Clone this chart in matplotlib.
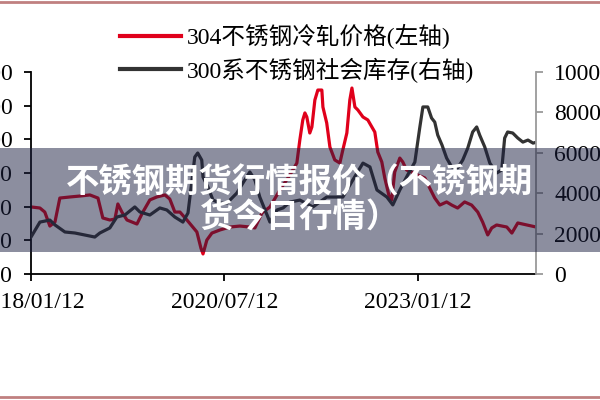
import numpy as np
import pandas as pd
import matplotlib
matplotlib.use('Agg')
import matplotlib.pyplot as plt
from matplotlib.lines import Line2D
from matplotlib.patches import Rectangle

plt.rcParams['font.family'] = ['Liberation Serif', 'Noto Sans CJK SC']

# 304不锈钢冷轧价格 (left axis)
price_dates = ['2018-01-12', '2018-02-23', '2018-03-18', '2018-04-11', '2018-05-05', '2018-05-28',
               '2018-07-15', '2018-08-31', '2018-10-17', '2018-11-24', '2018-12-17', '2019-01-19',
               '2019-02-12', '2019-02-26', '2019-03-17', '2019-04-10', '2019-05-27', '2019-06-24',
               '2019-07-27', '2019-08-29', '2019-10-06', '2019-10-29', '2019-11-22', '2019-12-16',
               '2020-01-18', '2020-03-05', '2020-03-24', '2020-04-03', '2020-04-21', '2020-05-15',
               '2020-06-22', '2020-08-08', '2020-09-24', '2020-11-10', '2020-12-04', '2021-01-06',
               '2021-02-13', '2021-04-01', '2021-05-18', '2021-06-20', '2021-07-04', '2021-07-18',
               '2021-07-28', '2021-08-06', '2021-08-20', '2021-08-30', '2021-09-13', '2021-09-27',
               '2021-10-16', '2021-10-21', '2021-11-08', '2021-11-23', '2021-12-16', '2022-01-09',
               '2022-01-23', '2022-02-11', '2022-02-25', '2022-03-07', '2022-03-21', '2022-04-04',
               '2022-04-28', '2022-05-21', '2022-06-09', '2022-06-23', '2022-07-07', '2022-07-26',
               '2022-08-09', '2022-08-28', '2022-09-11', '2022-09-25', '2022-10-19', '2022-11-02',
               '2022-11-20', '2022-12-14', '2023-01-12', '2023-02-14', '2023-03-09', '2023-04-02',
               '2023-04-26', '2023-05-28', '2023-06-21', '2023-07-19', '2023-08-21', '2023-09-23',
               '2023-10-22', '2023-11-14', '2023-12-08', '2023-12-27', '2024-01-19', '2024-03-07',
               '2024-03-31', '2024-04-28', '2024-06-10', '2024-07-23']
price_values = [14980, 14900, 14600, 13560, 13860, 15640,
                15720, 15790, 15870, 15640, 14160, 14010,
                14080, 15200, 14600, 14010, 13710, 14600,
                15500, 15720, 15870, 15570, 14600, 14600,
                14010, 13120, 11930, 11490, 12520, 13040,
                13270, 13490, 13560, 13490, 13420, 14530,
                14980, 16240, 17350, 18240, 19950, 21440,
                21960, 21660, 20470, 20920, 22920, 23660,
                23660, 22400, 21210, 19430, 18470, 18240,
                19210, 20470, 22920, 23810, 22400, 22180,
                21660, 21440, 20920, 20540, 19060, 18320,
                17130, 15870, 15500, 17570, 18610, 18320,
                17720, 17570, 17350, 17130, 16390, 15640,
                15120, 15350, 15120, 14900, 15350, 15120,
                14600, 13860, 12900, 13420, 13640, 13490,
                13040, 13790, 13640, 13490]

# 300系不锈钢社会库存 (right axis)
stock_dates = ['2018-01-12', '2018-02-23', '2018-04-11', '2018-05-05', '2018-06-21', '2018-08-07',
               '2018-09-23', '2018-11-09', '2018-12-03', '2019-01-19', '2019-02-21', '2019-03-31',
               '2019-05-17', '2019-06-10', '2019-07-27', '2019-09-12', '2019-10-15', '2019-11-22',
               '2019-12-30', '2020-01-23', '2020-02-11', '2020-02-24', '2020-03-09', '2020-03-28',
               '2020-04-03', '2020-04-26', '2020-05-20', '2020-06-22', '2020-07-25', '2020-09-10',
               '2020-10-08', '2020-11-10', '2020-12-04', '2020-12-27', '2021-02-13', '2021-03-18',
               '2021-04-16', '2021-05-18', '2021-07-04', '2021-09-04', '2021-11-08', '2022-01-23',
               '2022-03-11', '2022-04-28', '2022-05-31', '2022-07-03', '2022-08-19', '2022-09-16',
               '2022-10-19', '2022-11-25', '2022-12-29', '2023-01-21', '2023-02-05', '2023-02-28',
               '2023-03-18', '2023-04-02', '2023-04-16', '2023-05-06', '2023-05-28', '2023-06-21',
               '2023-07-19', '2023-08-12', '2023-09-05', '2023-09-28', '2023-10-17', '2023-10-31',
               '2023-11-24', '2023-12-18', '2024-01-19', '2024-02-12', '2024-02-26', '2024-03-11',
               '2024-04-04', '2024-04-28', '2024-05-22', '2024-06-15', '2024-07-09', '2024-07-27']
stock_values = [1830, 2570, 2670, 2430, 2080, 2030,
                1930, 1830, 2030, 2280, 2820, 2920,
                3320, 3070, 2920, 3270, 3170, 2820,
                2570, 3020, 4650, 5790, 5990, 5640,
                4800, 4310, 3660, 3510, 3510, 4010,
                4500, 5050, 4650, 3810, 2570, 3170,
                3270, 3560, 3660, 3320, 3810, 3810,
                4650, 5490, 5300, 4160, 3810, 3420,
                4160, 4900, 5540, 7230, 8270, 8270,
                7720, 7520, 6880, 6390, 5740, 5300,
                5250, 5640, 6240, 7030, 7280, 6880,
                6290, 5490, 5000, 5150, 6730, 7030,
                6980, 6730, 6530, 6630, 6480, 6530]

xticks = ['2018-01-12', '2020-07-12', '2023-01-12']
xtick_labels = ['2018/01/12', '2020/07/12', '2023/01/12']
left_ticks = np.arange(10000, 25001, 2500)
right_ticks = np.arange(0, 10001, 2000)

label_price = '304不锈钢冷轧价格(左轴)'
label_stock = '300系不锈钢社会库存(右轴)'
banner_1 = '不锈钢期货行情报价（不锈钢期'
banner_2 = '货今日行情）'

red = '#e0001b'
dark = '#333333'
fs = 17

fig = plt.figure(figsize=(6, 4), dpi=100)
ax = fig.add_axes([0.0517, 0.315, 0.842, 0.505])
ax2 = ax.twinx()

ax.plot(pd.to_datetime(price_dates), price_values, color=red, lw=2.3)
ax2.plot(pd.to_datetime(stock_dates), stock_values, color=dark, lw=2.3)

ax.set_xlim(pd.Timestamp('2018-01-12'), pd.Timestamp('2024-07-24'))
ax.set_ylim(10000, 25000)
ax2.set_ylim(0, 10000)
ax.set_xticks(pd.to_datetime(xticks))
ax.set_xticklabels(xtick_labels)
ax.set_yticks(left_ticks)
ax2.set_yticks(right_ticks)

ax.spines['top'].set_visible(False)
ax2.spines['top'].set_visible(False)
ax.spines['right'].set_visible(False)
ax2.spines['left'].set_visible(False)
ax2.spines['bottom'].set_visible(False)
ax.spines['left'].set_linewidth(1.3)
ax.spines['bottom'].set_linewidth(1.3)
ax2.spines['right'].set_color('#9a9a9a')
ax2.spines['right'].set_linewidth(1.3)

ax.tick_params(axis='both', direction='out', length=5, width=1.3, labelsize=fs, pad=8)
ax2.tick_params(axis='y', direction='out', length=5, width=1.3, color='#9a9a9a', labelsize=fs, pad=8)

handles = [Line2D([], [], color=red, lw=3), Line2D([], [], color=dark, lw=3)]
fig.legend(handles, [label_price, label_stock], loc='upper left',
           bbox_to_anchor=(0.2, 0.94), frameon=False, fontsize=fs,
           handlelength=2.6, handletextpad=0.25, labelspacing=0.35,
           borderpad=0, borderaxespad=0)

# banner overlay
fig.add_artist(Rectangle((0, 0.37), 1, 0.26, transform=fig.transFigure,
                         facecolor=(0.1, 0.12, 0.25), alpha=0.5, zorder=10))
fig.text(0.5, 0.5425, banner_1, color='white', fontsize=24, fontweight='heavy',
         family=['Noto Sans CJK SC'], ha='center', va='center', zorder=11)
fig.text(0.5, 0.455, banner_2, color='white', fontsize=24, fontweight='heavy',
         family=['Noto Sans CJK SC'], ha='center', va='center', zorder=11)

# page border lines
fig.add_artist(Line2D([0, 1], [0.994, 0.994], transform=fig.transFigure, color='#c08080', lw=2))
fig.add_artist(Line2D([0, 1], [0.007, 0.007], transform=fig.transFigure, color='#c08080', lw=2))

fig.savefig('out.png', dpi=100)
